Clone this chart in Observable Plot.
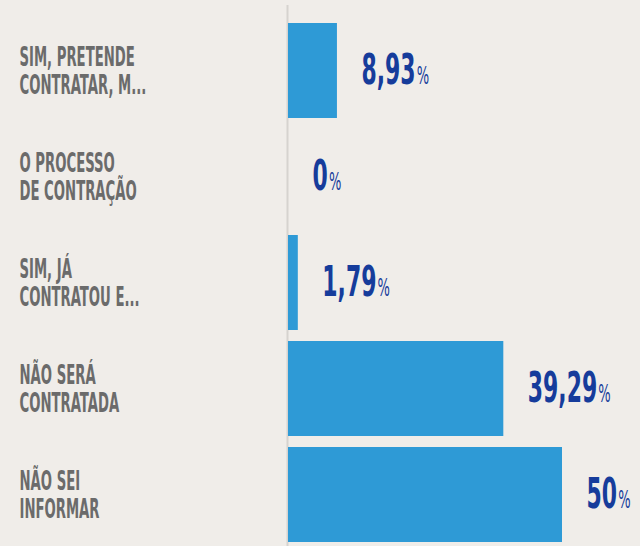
<!DOCTYPE html>
<html><head><meta charset="utf-8">
<script src="https://cdn.jsdelivr.net/npm/d3@7"></script>
<script src="https://cdn.jsdelivr.net/npm/@observablehq/plot@0.6"></script>
<style>
html,body{margin:0;padding:0;background:#f0ede9;overflow:hidden;}
</style></head><body><div id="chart"></div>
<script>
const categories = [
  "SIM, PRETENDE\nCONTRATAR, M...",
  "O PROCESSO\nDE CONTRAÇÃO",
  "SIM, JÁ\nCONTRATOU E...",
  "NÃO SERÁ\nCONTRATADA",
  "NÃO SEI\nINFORMAR"
];
const values = [8.93, 0, 1.79, 39.29, 50];
const valueLabels = ["8,93%", "0%", "1,79%", "39,29%", "50%"];

const data = categories.map((c, i) => ({label: c, value: values[i], text: valueLabels[i]}));
const FONT = "'DejaVu Sans Condensed', 'DejaVu Sans', sans-serif";

const plot = Plot.plot({
  width: 640, height: 546,
  marginLeft: 288, marginRight: 78, marginTop: 22, marginBottom: 3,
  style: {background: "#f0ede9", fontFamily: FONT, overflow: "visible"},
  x: {domain: [0, 50], axis: null},
  y: {domain: categories, axis: null, paddingInner: 0.1, paddingOuter: 0},
  marks: [
    Plot.ruleX([0], {stroke: "#d6d3cf", strokeWidth: 2, dx: -1, insetTop: -17, insetBottom: -3}),
    Plot.barX(data, {x: "value", y: "label", fill: "#2e9ad6"}),
    Plot.text(data, {y: "label", text: "label", frameAnchor: "left", textAnchor: "start", dx: -269,
      fontSize: 26.5, fontWeight: "bold", fill: "#6b6b6b", lineHeight: 1.07, lineAnchor: "middle"}),
    Plot.text(data, {x: "value", y: "label", text: "text", textAnchor: "start", dx: 24,
      fontSize: 42, fontWeight: "bold", fill: "#163c9b", lineAnchor: "middle"})
  ]
});
document.getElementById("chart").appendChild(plot);

function squeeze(t, s) {
  const tr = t.getAttribute("transform") || "";
  t.setAttribute("transform", `${tr} scale(${s},1)`);
}
const NS = "http://www.w3.org/2000/svg";
const groups = plot.querySelectorAll('g[aria-label="text"]');
groups[0].querySelectorAll("text").forEach(t => squeeze(t, 0.555));
groups[1].querySelectorAll("text").forEach(t => {
  const s = t.textContent;
  const num = s.replace("%", "");
  const existing = t.querySelector("tspan");
  if (existing) existing.textContent = num;
  else t.textContent = num;
  const sp = document.createElementNS(NS, "tspan");
  sp.textContent = "%";
  sp.setAttribute("font-size", "25");
  sp.setAttribute("font-weight", "normal");
  sp.setAttribute("dx", "2");
  t.appendChild(sp);
  squeeze(t, 0.58);
});
</script></body></html>
